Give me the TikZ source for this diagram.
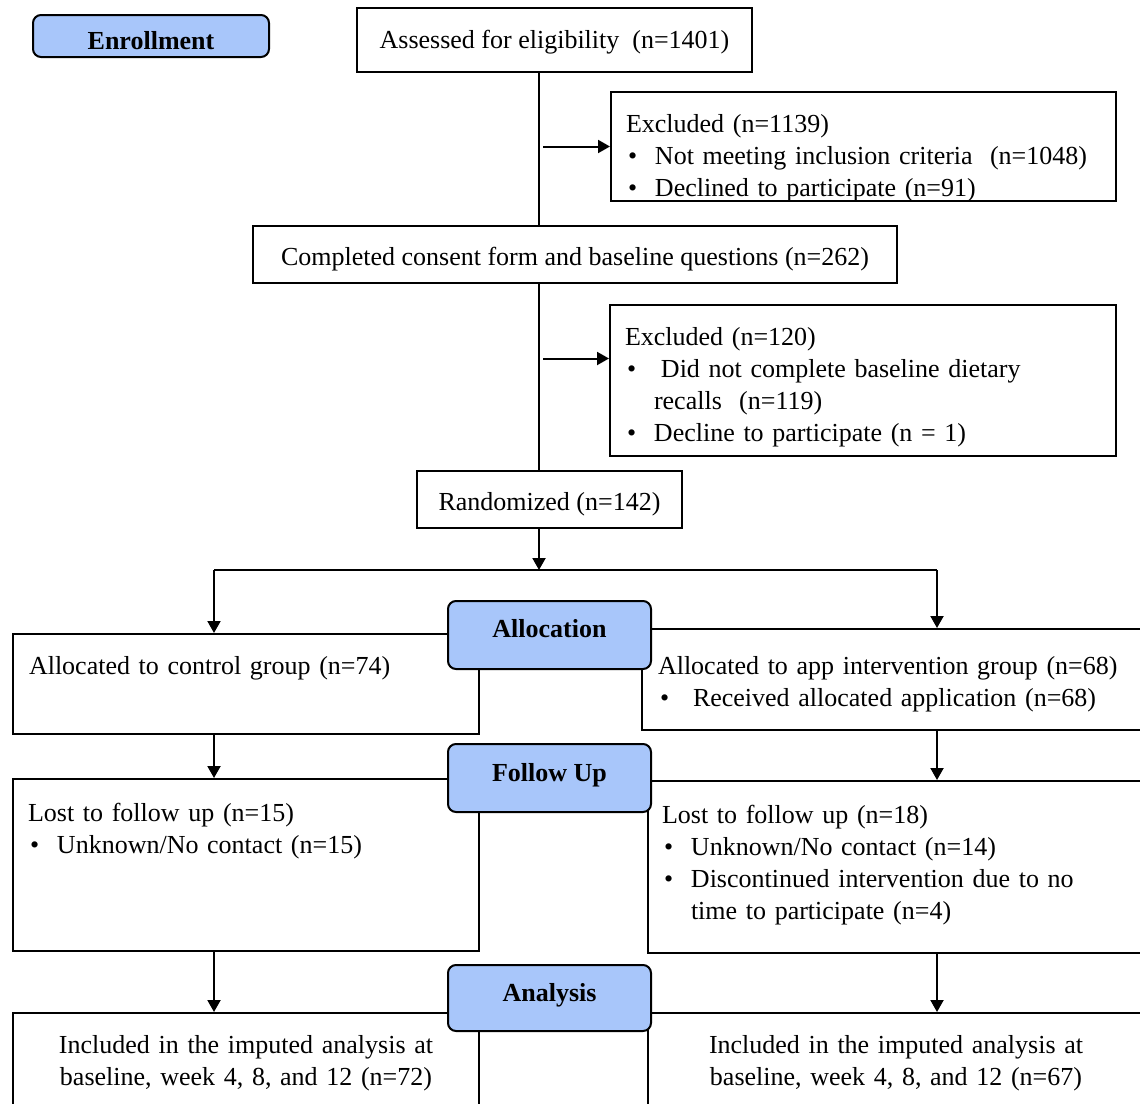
\documentclass[tikz,border=0pt]{standalone}
\usepackage{fontspec}
\setmainfont{Liberation Serif}
\usetikzlibrary{arrows.meta,positioning}
\definecolor{phaseblue}{RGB}{168,198,250}
\newcommand{\itm}[1][14.5pt]{\makebox[#1][l]{\hspace{1pt}\textbullet}}
\tikzset{
  arr/.style={-{Triangle[length=6pt,width=6.5pt]},line width=1pt},
  lne/.style={line width=1pt},
  box/.style={draw,line width=1pt,fill=white,inner sep=0pt,font=\fontsize{13}{16}\selectfont},
  lbox/.style={box,anchor=north west,align=left,inner ysep=0pt,inner xsep=#1}, % text hung from top left
  lbox/.default=7.5pt,
  cbox/.style={box,align=center,text height=12pt,text depth=1pt},
  phase/.style={draw,line width=1pt,rounded corners=4pt,fill=phaseblue,inner sep=0pt,
    align=center,font=\fontsize{13}{16}\selectfont\bfseries}, % stage label
}

\begin{document}
\begin{tikzpicture}[x=0.5pt,y=-0.5pt]
  \useasboundingbox (0,0) rectangle (1140,1103);
  \clip (0,0) rectangle (1140,1103);
  % enrollment
  \node[phase,minimum width=118pt,minimum height=21pt,text height=13pt,text depth=0pt] (enroll) at (151,36) {Enrollment};
  \node[cbox,minimum width=197.5pt,minimum height=32pt,text height=10.5pt,text depth=2.5pt] (assess) at (554.5,40) {Assessed for eligibility\ \ (n=1401)};
  \node[lbox,text width=237.5pt,text height=20pt,text depth=34.5pt] (excl1) at (610,91)
    {Excluded (n=1139)\\ \itm Not meeting inclusion criteria\ \ (n=1048)\\ \itm Declined to participate (n=91)};
  \node[cbox,minimum width=322pt,minimum height=28.5pt] (consent) at (575,254.5) {Completed consent form and baseline questions (n=262)};
  \node[lbox,text width=238pt,text height=20pt,text depth=55.5pt] (excl2) at (609,304)
    {Excluded (n=120)\\ \itm[18pt]Did not complete baseline dietary\\ \hspace*{14.5pt}recalls\ \ (n=119)\\ \itm Decline to participate (n = 1)};
  \node[cbox,minimum width=132.5pt,minimum height=28.5pt] (rand) at (549.5,499.5) {Randomized (n=142)};
  % allocation
  \node[lbox=8pt,text width=217pt,text height=20pt,text depth=30pt] (ctrl) at (12,633) {Allocated to control group (n=74)};
  \node[lbox=8pt,text width=236pt,text height=22.5pt,text depth=28pt] (appgrp) at (641,628)
    {Allocated to app intervention group (n=68)\\ \itm[17.5pt]Received allocated application (n=68)};
  % follow up
  \node[lbox,text width=218pt,text height=21pt,text depth=65pt] (lostc) at (12,778)
    {Lost to follow up (n=15)\\ \itm Unknown/No contact (n=15)};
  \node[lbox=7pt,text width=235pt,text height=21pt,text depth=65pt] (losta) at (647,780)
    {Lost to follow up (n=18)\\ \itm Unknown/No contact (n=14)\\ \itm Discontinued intervention due to no\\ \hspace*{14.5pt}time to participate (n=4)};
  % analysis
  \node[box,anchor=north west,align=center,text width=233pt,text height=20pt,text depth=39pt] (inclc) at (12,1012)
    {Included in the imputed analysis at\\ baseline, week 4, 8, and 12 (n=72)};
  \node[box,anchor=north west,align=center,text width=248pt,text height=20pt,text depth=39pt] (incla) at (647,1012)
    {Included in the imputed analysis at\\ baseline, week 4, 8, and 12 (n=67)};

  % connectors
  \coordinate (spine) at (539,0);
  \coordinate (gap) at (543,0);
  \coordinate (e2) at ([yshift=11pt]excl2.west);
  \draw[lne] (assess.south -| spine) -- (consent.north -| spine);
  \draw[lne] (consent.south -| spine) -- (rand.north -| spine);
  \draw[arr] (gap |- excl1.west) -- (excl1.west);
  \draw[arr] (gap |- e2) -- (e2);
  \coordinate (split) at (539,570);
  \coordinate (lcol) at (214,570);
  \coordinate (rcol) at (937,570);
  \draw[arr] (rand.south -| spine) -- (split);
  \draw[lne] (lcol) -- (rcol);
  \draw[arr] (lcol) -- (lcol |- ctrl.north);
  \draw[arr] (rcol) -- (rcol |- appgrp.north);
  \draw[arr] (ctrl.south -| lcol) -- (lostc.north -| lcol);
  \draw[arr] (appgrp.south -| rcol) -- (losta.north -| rcol);
  \draw[arr] (lostc.south -| lcol) -- (inclc.north -| lcol);
  \draw[arr] (losta.south -| rcol) -- (incla.north -| rcol);

  % stage labels on top
  \node[phase,anchor=north,minimum width=101.5pt,text height=18pt,text depth=16pt] (alloc) at (549.5,600) {Allocation};
  \node[phase,anchor=north,minimum width=101.5pt,text height=18.5pt,text depth=15.5pt] (follow) at (549.5,743) {Follow Up};
  \node[phase,anchor=north,minimum width=101.5pt,text height=18pt,text depth=15pt] (anlys) at (549.5,964) {Analysis};
\end{tikzpicture}
\end{document}
